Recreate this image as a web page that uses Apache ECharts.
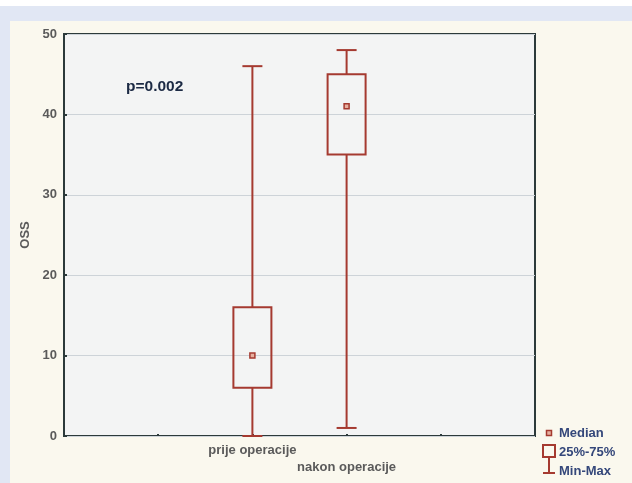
<!DOCTYPE html>
<html>
<head>
<meta charset="utf-8">
<script src="https://cdn.jsdelivr.net/npm/echarts@6/dist/echarts.min.js"></script>
<style>
  html, body { margin: 0; padding: 0; width: 632px; height: 483px; overflow: hidden; background: #ffffff; }
  #blue { position: absolute; left: 0; top: 6px; width: 632px; height: 477px; background: #e1e7f4; }
  #cream { position: absolute; left: 10px; top: 21px; width: 622px; height: 462px; background: #faf8ee; }
  #chart { position: absolute; left: 0; top: 0; width: 632px; height: 483px; }
</style>
</head>
<body>
<div id="blue"></div>
<div id="cream"></div>
<div id="chart"></div>
<script>
// Category slots (boxes sit on the ticks at index 2 and 3)
const categories = ['', '', 'prije operacije', 'nakon operacije', '', ''];
const boxCategoryIndex = [2, 3];
const mins    = [0, 1];
const q1s     = [6, 35];
const medians = [10, 41];
const q3s     = [16, 45];
const maxs    = [46, 48];
const yTicks  = [0, 10, 20, 30, 40, 50];
const pText = 'p=0.002';
const legendLabels = ['Median', '25%-75%', 'Min-Max'];

const RED = '#a53a30';
const FONT = 'Liberation Sans, Arial, sans-serif';
const seriesData = boxCategoryIndex.map((c, i) => [c, mins[i], q1s[i], medians[i], q3s[i], maxs[i]]);

function renderItem(params, api) {
  const x = api.value(0);
  const pMin = api.coord([x, api.value(1)]);
  const pQ1 = api.coord([x, api.value(2)]);
  const pMed = api.coord([x, api.value(3)]);
  const pQ3 = api.coord([x, api.value(4)]);
  const pMax = api.coord([x, api.value(5)]);
  const bw = 38, cw = 20, cx = pMed[0];
  const st = { stroke: RED, lineWidth: 2, fill: null };
  return {
    type: 'group',
    children: [
      { type: 'line', shape: { x1: cx, y1: pMax[1], x2: cx, y2: pQ3[1] }, style: st },
      { type: 'line', shape: { x1: cx, y1: pQ1[1], x2: cx, y2: pMin[1] }, style: st },
      { type: 'line', shape: { x1: cx - cw / 2, y1: pMax[1], x2: cx + cw / 2, y2: pMax[1] }, style: st },
      { type: 'line', shape: { x1: cx - cw / 2, y1: pMin[1], x2: cx + cw / 2, y2: pMin[1] }, style: st },
      { type: 'rect', shape: { x: cx - bw / 2, y: pQ3[1], width: bw, height: pQ1[1] - pQ3[1] }, style: { stroke: RED, lineWidth: 2, fill: 'rgba(0,0,0,0)' } },
      { type: 'rect', shape: { x: cx - 2.5, y: pMed[1] - 2.5, width: 5, height: 5 }, style: { stroke: RED, lineWidth: 1.5, fill: '#e6b0a0' } }
    ]
  };
}

const chart = echarts.init(document.getElementById('chart'));
const lx = 549;
const legendText = (i, y) => ({ type: 'text', x: 559, y: y, style: { text: legendLabels[i], fontSize: 13, fontWeight: 'bold', fill: '#34477a', fontFamily: FONT, verticalAlign: 'middle' } });
chart.setOption({
  animation: false,
  backgroundColor: 'transparent',
  grid: { left: 64, right: 97, top: 34, bottom: 47, show: true, backgroundColor: '#f3f4f4', borderColor: '#2c3a3a', borderWidth: 2 },
  xAxis: {
    type: 'category',
    data: categories,
    boundaryGap: false,
    axisLine: { show: false },
    axisTick: { show: true, inside: true, length: 2, lineStyle: { color: '#2c3a3a', width: 2 } },
    axisLabel: {
      interval: 0,
      margin: 6,
      fontSize: 13,
      fontWeight: 'bold',
      fontFamily: FONT,
      color: '#5a5a5a',
      lineHeight: 17,
      formatter: (v, i) => (i === 3 ? '\n' + v : v)
    },
    splitLine: { show: false }
  },
  yAxis: {
    type: 'value',
    min: yTicks[0],
    max: yTicks[yTicks.length - 1],
    interval: 10,
    name: 'OSS',
    nameLocation: 'middle',
    nameGap: 29,
    nameTextStyle: { fontSize: 13, fontWeight: 'bold', color: '#5a5a5a', fontFamily: FONT },
    axisLine: { show: false },
    axisTick: { show: true, inside: true, length: 3, lineStyle: { color: '#2c3a3a', width: 2 } },
    axisLabel: { fontSize: 13, color: '#5a5a5a', margin: 7, fontFamily: FONT, fontWeight: 'bold' },
    splitLine: { show: true, lineStyle: { color: '#cdd3d8', width: 1 } }
  },
  series: [{
    type: 'custom',
    renderItem: renderItem,
    encode: { x: 0, y: [1, 2, 3, 4, 5] },
    data: seriesData,
    z: 5
  }],
  graphic: [
    { type: 'text', x: 126, y: 87, style: { text: pText, fontSize: 15.5, fontWeight: 'bold', fill: '#1c2a44', fontFamily: FONT, verticalAlign: 'middle' } },
    { type: 'rect', shape: { x: lx - 2.5, y: 430.5, width: 5, height: 5 }, style: { stroke: RED, lineWidth: 1.5, fill: '#e6b0a0' } },
    { type: 'rect', shape: { x: lx - 6, y: 445, width: 12, height: 12 }, style: { stroke: RED, lineWidth: 2, fill: 'rgba(0,0,0,0)' } },
    { type: 'line', shape: { x1: lx, y1: 457, x2: lx, y2: 473 }, style: { stroke: RED, lineWidth: 2 } },
    { type: 'line', shape: { x1: lx - 6, y1: 473, x2: lx + 6, y2: 473 }, style: { stroke: RED, lineWidth: 2 } },
    legendText(0, 433),
    legendText(1, 452),
    legendText(2, 471)
  ]
});
</script>
</body>
</html>
